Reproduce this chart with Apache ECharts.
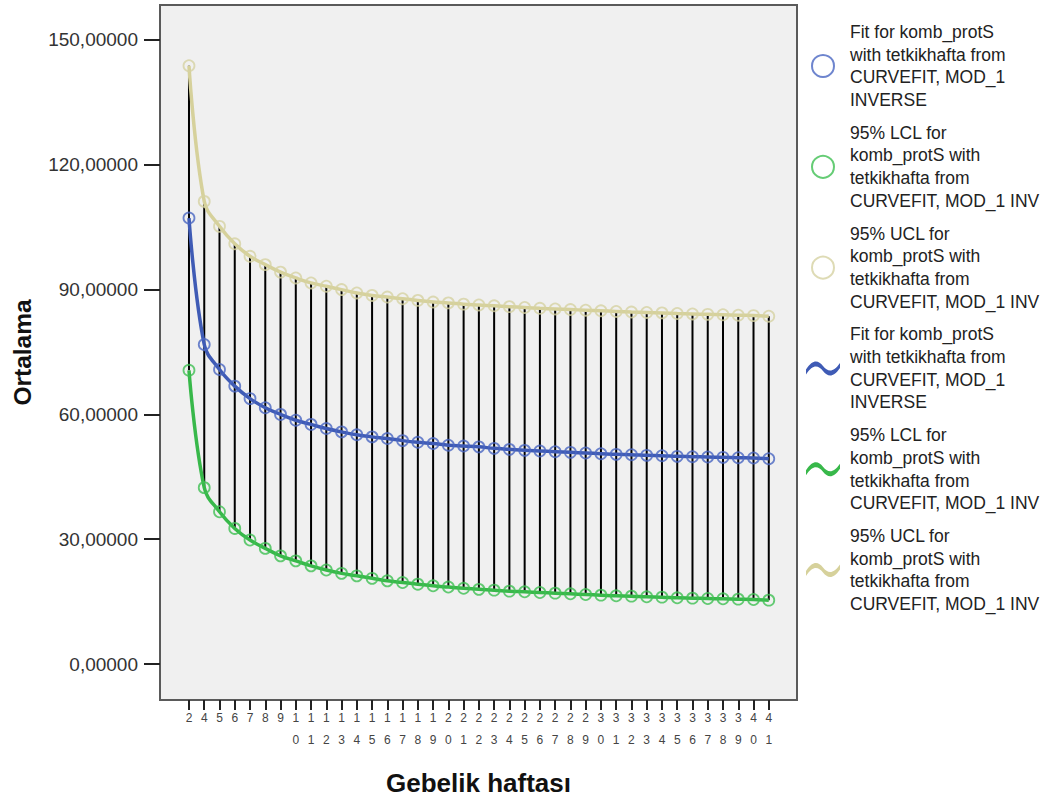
<!DOCTYPE html>
<html>
<head>
<meta charset="utf-8">
<script src="https://cdn.jsdelivr.net/npm/echarts@6/dist/echarts.min.js"></script>
<style>
html,body{margin:0;padding:0;background:#fff;}
#chart{width:1048px;height:801px;}
</style>
</head>
<body>
<div id="chart"></div>
<script>
const categories = ['2','4','5','6','7','8','9','10','11','12','13','14','15','16','17','18','19','20','21','22','23','24','25','26','27','28','29','30','31','32','33','34','35','36','37','38','39','40','41'];
const fitValues = [107.2,76.8,70.8,66.8,63.8,61.6,60.0,58.6,57.6,56.6,55.8,55.1,54.6,54.2,53.7,53.3,53.0,52.6,52.4,52.2,51.84,51.6,51.36,51.2,51.04,50.88,50.72,50.56,50.4,50.32,50.16,50.08,49.92,49.84,49.76,49.68,49.6,49.52,49.36];
const lclValues = [70.6,42.4,36.6,32.6,29.8,27.8,26.0,24.8,23.6,22.6,21.8,21.2,20.6,20.0,19.6,19.2,18.8,18.5,18.2,17.95,17.76,17.52,17.36,17.2,17.04,16.88,16.72,16.56,16.4,16.32,16.16,16.08,15.92,15.84,15.76,15.68,15.6,15.52,15.36];
const uclValues = [143.8,111.2,105.2,101.0,98.0,96.0,94.2,92.8,91.6,90.8,90.0,89.2,88.6,88.2,87.8,87.4,87.0,86.8,86.5,86.3,86.1,85.9,85.7,85.5,85.35,85.2,85.05,84.9,84.75,84.6,84.5,84.4,84.25,84.15,84.05,83.95,83.85,83.75,83.6];
const yTickValues = [0,30,60,90,120,150];
const legendTexts = {
  fitM: 'Fit for komb_protS\nwith tetkikhafta from\nCURVEFIT, MOD_1\nINVERSE',
  lclM: '95% LCL for\nkomb_protS with\ntetkikhafta from\nCURVEFIT, MOD_1 INV',
  uclM: '95% UCL for\nkomb_protS with\ntetkikhafta from\nCURVEFIT, MOD_1 INV',
  fitL: 'Fit for komb_protS\nwith tetkikhafta from\nCURVEFIT, MOD_1\nINVERSE',
  lclL: '95% LCL for\nkomb_protS with\ntetkikhafta from\nCURVEFIT, MOD_1 INV',
  uclL: '95% UCL for\nkomb_protS with\ntetkikhafta from\nCURVEFIT, MOD_1 INV'
};

const C_FIT = '#3f5bb5', C_LCL = '#38b84a', C_UCL = '#d6d19b';
const C_FIT_L = '#4a66c2', C_LCL_L = '#3fbf52', C_UCL_L = '#d6d2a2';
const idx = categories.map((c, i) => i);
const toPairs = arr => arr.map((v, i) => [idx[i], v]);
const WAVE = 'path://M0,0L0.01,0L0,0.01Z M44,22L43.99,22L44,21.99Z M5,12 C12,1.5 17,2.5 22,8.5 C27,14.5 32,15.5 39,5.5 L39,10.5 C32,20.5 27,19.5 22,13.5 C17,7.5 12,6.5 5,17 Z';

const chart = echarts.init(document.getElementById('chart'), null, {renderer: 'svg'});
const font = 'Liberation Sans, Arial, sans-serif';

chart.setOption({
  animation: false,
  backgroundColor: '#ffffff',
  grid: {left: 160, right: 251, top: 5, bottom: 100, show: true, backgroundColor: '#f0f0f0', borderColor: '#5a5a5a', borderWidth: 2},
  xAxis: {
    type: 'value', min: -1.9, max: 39.85,
    name: 'Gebelik haftası', nameLocation: 'middle', nameGap: 70,
    nameTextStyle: {fontFamily: font, fontWeight: 'bold', fontSize: 26, color: '#111'},
    axisLine: {show: false, onZero: false},
    splitLine: {show: false},
    axisTick: {show: true, length: 10, customValues: idx, lineStyle: {color: '#222', width: 2}},
    axisLabel: {show: true, customValues: idx, margin: 7, fontFamily: font, fontSize: 12, lineHeight: 22, color: '#444',
      formatter: v => categories[Math.round(v)].split('').join('\n')}
  },
  yAxis: {
    type: 'value', min: -8.64, max: 158.4,
    name: 'Ortalama', nameLocation: 'middle', nameGap: 125,
    nameTextStyle: {fontFamily: font, fontWeight: 'bold', fontSize: 24.5, color: '#111'},
    axisLine: {show: false, onZero: false},
    splitLine: {show: false},
    axisTick: {show: true, length: 16, customValues: yTickValues, lineStyle: {color: '#222', width: 2}},
    axisLabel: {show: true, customValues: yTickValues, margin: 22, fontFamily: font, fontSize: 19, color: '#333',
      formatter: v => v.toFixed(5).replace('.', ',')}
  },
  legend: {
    orient: 'vertical', left: 801, top: 20.6, padding: 0, itemGap: 10,
    itemWidth: 44, itemHeight: 22, selectedMode: false,
    textStyle: {fontFamily: font, fontSize: 17.5, lineHeight: 22.7, color: '#222'},
    formatter: name => legendTexts[name],
    data: [
      {name: 'fitM', icon: 'circle', itemStyle: {color: 'rgba(0,0,0,0)', borderColor: C_FIT_L, borderWidth: 2}},
      {name: 'lclM', icon: 'circle', itemStyle: {color: 'rgba(0,0,0,0)', borderColor: C_LCL_L, borderWidth: 2}},
      {name: 'uclM', icon: 'circle', itemStyle: {color: 'rgba(0,0,0,0)', borderColor: C_UCL_L, borderWidth: 2}},
      {name: 'fitL', icon: WAVE, itemStyle: {color: C_FIT, borderWidth: 0}},
      {name: 'lclL', icon: WAVE, itemStyle: {color: C_LCL, borderWidth: 0}},
      {name: 'uclL', icon: WAVE, itemStyle: {color: C_UCL, borderWidth: 0}}
    ]
  },
  series: [
    {
      type: 'custom', name: 'range', z: 1, silent: true,
      data: idx.map(i => [i, lclValues[i], uclValues[i]]),
      renderItem: (params, api) => {
        const lo = api.coord([api.value(0), api.value(1)]);
        const hi = api.coord([api.value(0), api.value(2)]);
        return {type: 'line', shape: {x1: lo[0], y1: lo[1], x2: hi[0], y2: hi[1]}, style: {stroke: '#000', lineWidth: 2}};
      }
    },
    {type: 'line', name: 'fitL', z: 2, data: toPairs(fitValues), smooth: 0.4, showSymbol: false, color: C_FIT, lineStyle: {color: C_FIT, width: 3.5}},
    {type: 'line', name: 'lclL', z: 2, data: toPairs(lclValues), smooth: 0.4, showSymbol: false, color: C_LCL, lineStyle: {color: C_LCL, width: 3.5}},
    {type: 'line', name: 'uclL', z: 2, data: toPairs(uclValues), smooth: 0.4, showSymbol: false, color: C_UCL, lineStyle: {color: C_UCL, width: 3.5}},
    {type: 'scatter', name: 'fitM', z: 3, data: toPairs(fitValues), symbol: 'circle', symbolSize: 11, itemStyle: {color: 'rgba(0,0,0,0)', borderColor: C_FIT_L, borderWidth: 1.8}},
    {type: 'scatter', name: 'lclM', z: 3, data: toPairs(lclValues), symbol: 'circle', symbolSize: 11, itemStyle: {color: 'rgba(0,0,0,0)', borderColor: C_LCL_L, borderWidth: 1.8}},
    {type: 'scatter', name: 'uclM', z: 3, data: toPairs(uclValues), symbol: 'circle', symbolSize: 11, itemStyle: {color: 'rgba(0,0,0,0)', borderColor: C_UCL_L, borderWidth: 1.8}}
  ]
});
</script>
</body>
</html>
